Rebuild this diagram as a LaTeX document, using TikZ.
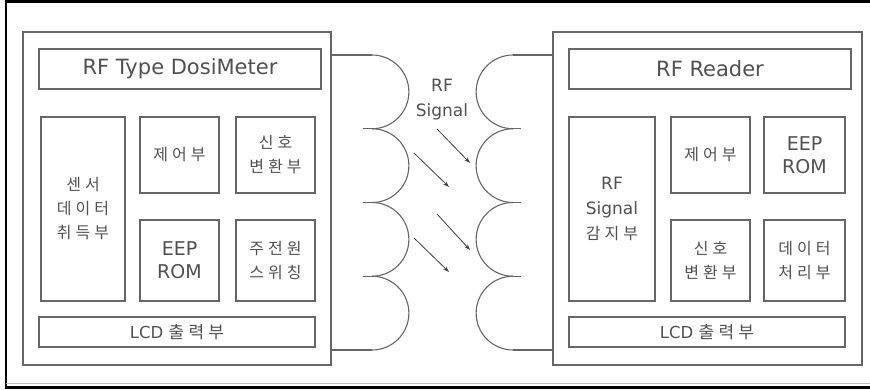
\documentclass[tikz,border=0pt]{standalone}
\usepackage{fontspec}
\setmainfont{DejaVu Sans}
\newfontfamily\kr[LetterSpace=25]{Noto Sans CJK KR}
\usetikzlibrary{arrows.meta}
\definecolor{linegray}{HTML}{666666}
\definecolor{txtgray}{HTML}{505050}
\begin{document}
\begin{tikzpicture}[x=1pt,y=-1pt,
  box/.style={draw=linegray, line width=1.3pt, inner sep=0pt, align=center, text=txtgray},
  krbox/.style={box, font=\kr\fontsize{16}{24}\selectfont},
  wave/.style={draw=linegray, line width=1.1pt},
  sig/.style={draw=black!75, line width=0.8pt, -{Stealth[length=6pt,width=4pt]}},
  ]
\useasboundingbox (0,0) rectangle (870,389);
% outer frame
\draw[black, line width=2.5pt] (5,1.5) -- (870,1.5);
\draw[black, line width=1.5pt] (6,0) -- (6,388);
\draw[black, line width=2.5pt] (5,387.5) -- (870,387.5);
\draw[black!25, line width=1pt] (6,383) -- (870,383);

% left device
\node[box, minimum width=308pt, minimum height=333pt] (lbox) at (177,198.5) {};
\node[box, minimum width=282pt, minimum height=40pt, font=\fontsize{21}{24}\selectfont] (ltitle) at (180,69) {RF Type DosiMeter};
\node[krbox, minimum width=84pt, minimum height=184pt] (lsensor) at (83,209) {센서\\데이터\\취득부};
\node[krbox, minimum width=79pt, minimum height=76pt] (lctrl) at (179.5,155) {제어부};
\node[krbox, minimum width=79pt, minimum height=76pt] (lsig) at (275.5,155) {신호\\변환부};
\node[box, minimum width=79pt, minimum height=81pt, font=\fontsize{19}{23}\selectfont] (leep) at (179.5,260.5) {EEP\\ROM};
\node[krbox, minimum width=79pt, minimum height=81pt] (lpow) at (275.5,260.5) {주전원\\스위칭};
\node[box, minimum width=276pt, minimum height=30pt, font=\fontsize{16.5}{18}\selectfont] (llcd) at (177,332) {LCD {\kr\fontsize{17}{18}\selectfont 출력부}};

% right device
\node[box, minimum width=309pt, minimum height=333pt] (rbox) at (707.5,198.5) {};
\node[box, minimum width=282pt, minimum height=40pt, font=\fontsize{21}{24}\selectfont] (rtitle) at (710,69) {RF Reader};
\node[box, minimum width=86pt, minimum height=184pt, font=\fontsize{17}{25}\selectfont] (rsig) at (612,209) {RF\\Signal\\{\kr\fontsize{16}{25}\selectfont 감지부}};
\node[krbox, minimum width=79pt, minimum height=76pt] (rctrl) at (710.5,155) {제어부};
\node[box, minimum width=81pt, minimum height=76pt, font=\fontsize{19}{23}\selectfont] (reep) at (804.5,155) {EEP\\ROM};
\node[krbox, minimum width=79pt, minimum height=81pt] (rconv) at (710.5,260.5) {신호\\변환부};
\node[krbox, minimum width=81pt, minimum height=81pt] (rdata) at (804.5,260.5) {데이터\\처리부};
\node[box, minimum width=276pt, minimum height=30pt, font=\fontsize{16.5}{18}\selectfont] (rlcd) at (707,332) {LCD {\kr\fontsize{17}{18}\selectfont 출력부}};

% antenna waves
\coordinate (lt) at (372,55);
\coordinate (lb) at (372,350);
\coordinate (rt) at (513,55);
\coordinate (rb) at (513,350);
\draw[wave] (lt -| lbox.east) -- (lt);
\draw[wave] (lb -| lbox.east) -- (lb);
\draw[wave] (rt -| rbox.west) -- (rt);
\draw[wave] (rb -| rbox.west) -- (rb);
\foreach \i in {0,1,2,3}{
  \draw[wave] (372,55+73.75*\i) arc[start angle=90,end angle=-90,radius=36.875pt];
  \draw[wave] (513,55+73.75*\i) arc[start angle=90,end angle=270,radius=36.875pt];
}
\foreach \i in {1,2,3}{
  \draw[wave] (372,55+73.75*\i) -- ++(-9,0);
  \draw[wave] (513,55+73.75*\i) -- ++(8,0);
}

% signal
\node[text=txtgray, align=center, font=\fontsize{17}{25}\selectfont] (rflabel) at (442,100) {RF\\Signal};
\draw[sig] (437,129) -- (470,163);
\draw[sig] (414,153) -- (449,187);
\draw[sig] (437,214) -- (470,250);
\draw[sig] (414,238) -- (449,272);
\end{tikzpicture}
\end{document}
